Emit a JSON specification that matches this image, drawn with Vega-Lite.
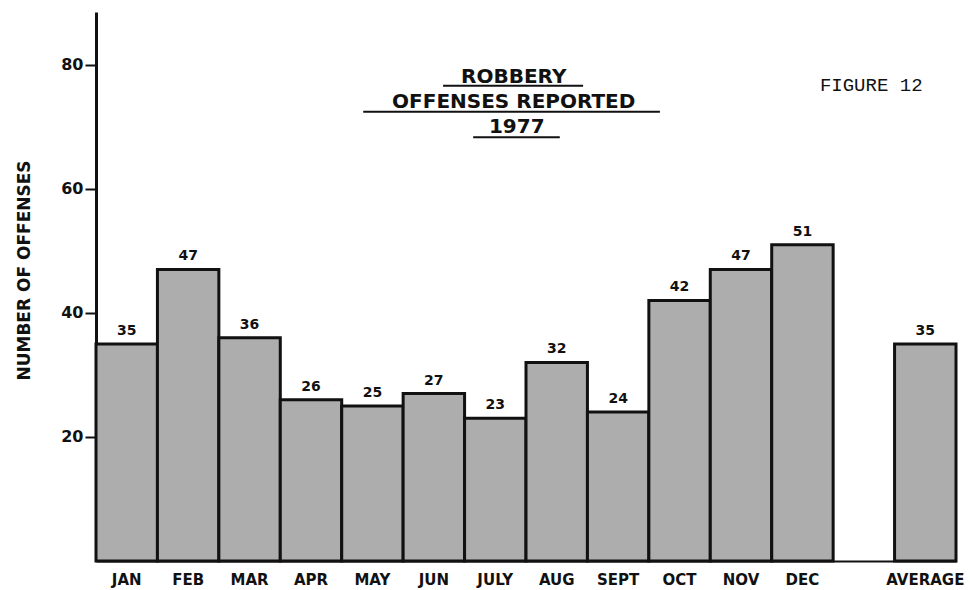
{
  "$schema": "https://vega.github.io/schema/vega-lite/v6.json",
  "width": 860,
  "height": 549,
  "autosize": {"type": "none"},
  "padding": {"left": 96, "top": 12, "right": 14, "bottom": 29},
  "background": "white",
  "config": {"view": {"stroke": null}, "font": "DejaVu Sans"},
  "resolve": {"scale": {"x": "independent"}},
  "layer": [
    {
      "data": {"values": [
        {"month": "JAN", "offenses": 35},
        {"month": "FEB", "offenses": 47},
        {"month": "MAR", "offenses": 36},
        {"month": "APR", "offenses": 26},
        {"month": "MAY", "offenses": 25},
        {"month": "JUN", "offenses": 27},
        {"month": "JULY", "offenses": 23},
        {"month": "AUG", "offenses": 32},
        {"month": "SEPT", "offenses": 24},
        {"month": "OCT", "offenses": 42},
        {"month": "NOV", "offenses": 47},
        {"month": "DEC", "offenses": 51},
        {"month": "AVERAGE", "offenses": 35}
      ]},
      "encoding": {
        "x": {
          "field": "month", "type": "ordinal",
          "scale": {"domain": ["JAN","FEB","MAR","APR","MAY","JUN","JULY","AUG","SEPT","OCT","NOV","DEC","","AVERAGE"], "paddingInner": 0, "paddingOuter": 0},
          "axis": {"title": null, "ticks": false, "grid": false, "domainColor": "#111", "domainWidth": 2, "labelFontWeight": "bold", "labelFontSize": 15, "labelColor": "#111", "labelPadding": 11, "labelAngle": 0}
        },
        "y": {
          "field": "offenses", "type": "quantitative",
          "scale": {"domain": [0, 88.5], "nice": false},
          "axis": {"title": "NUMBER OF OFFENSES", "values": [20, 40, 60, 80], "grid": false, "tickSize": 11, "tickWidth": 2, "tickColor": "#111", "domainColor": "#111", "domainWidth": 3, "labelFontSize": 16, "labelFontWeight": "bold", "labelColor": "#111", "labelPadding": 2, "titleFontSize": 17, "titleFontWeight": "bold", "titleColor": "#111", "titleX": -63, "titleY": 258, "titleBaseline": "bottom"}
        }
      },
      "layer": [
        {"mark": {"type": "bar", "fill": "#adadad", "stroke": "#111", "strokeWidth": 3}},
        {"mark": {"type": "text", "dy": -13, "fontWeight": "bold", "fontSize": 14, "color": "#111"}, "encoding": {"text": {"field": "offenses", "type": "quantitative"}}}
      ]
    },
    {
      "data": {"values": [{}]},
      "encoding": {
        "x": {"datum": 6.8, "type": "quantitative", "scale": {"domain": [0, 14], "nice": false, "zero": false}, "axis": null}
      },
      "layer": [
        {"mark": {"type": "text", "text": "ROBBERY", "fontWeight": "bold", "fontSize": 20, "color": "#111"}, "encoding": {"y": {"datum": 78.1, "type": "quantitative"}}},
        {"mark": {"type": "text", "text": "OFFENSES REPORTED", "fontWeight": "bold", "fontSize": 20, "color": "#111"}, "encoding": {"y": {"datum": 74.0, "type": "quantitative"}}},
        {"mark": {"type": "text", "text": "1977", "fontWeight": "bold", "fontSize": 20, "color": "#111"}, "encoding": {"x": {"datum": 6.85, "type": "quantitative"}, "y": {"datum": 70.0, "type": "quantitative"}}},
        {"mark": {"type": "rule", "stroke": "#111", "strokeWidth": 2}, "encoding": {"x": {"datum": 5.65, "type": "quantitative"}, "x2": {"datum": 7.93}, "y": {"datum": 76.6, "type": "quantitative"}}},
        {"mark": {"type": "rule", "stroke": "#111", "strokeWidth": 2}, "encoding": {"x": {"datum": 4.35, "type": "quantitative"}, "x2": {"datum": 9.18}, "y": {"datum": 72.4, "type": "quantitative"}}},
        {"mark": {"type": "rule", "stroke": "#111", "strokeWidth": 2}, "encoding": {"x": {"datum": 6.14, "type": "quantitative"}, "x2": {"datum": 7.55}, "y": {"datum": 68.3, "type": "quantitative"}}},
        {"mark": {"type": "text", "text": "FIGURE 12", "font": "Liberation Mono", "fontSize": 19, "color": "#111"}, "encoding": {"x": {"datum": 12.62, "type": "quantitative"}, "y": {"datum": 76.8, "type": "quantitative"}}}
      ]
    }
  ]
}
